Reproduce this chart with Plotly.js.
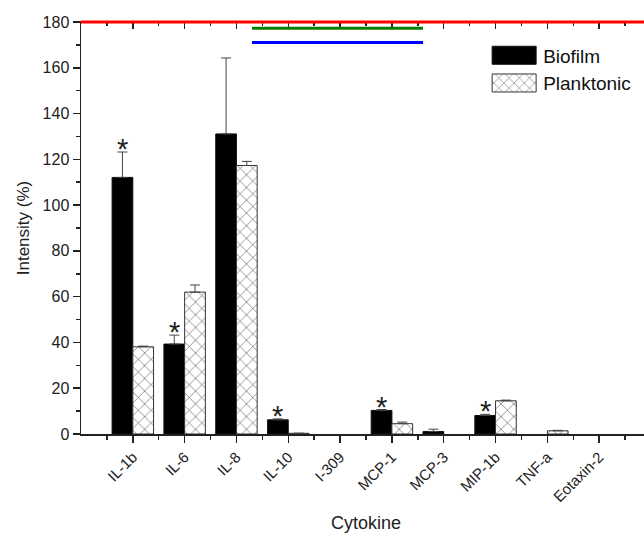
<!DOCTYPE html>
<html>
<head>
<meta charset="utf-8">
<script src="https://cdn.plot.ly/plotly-3.0.1.min.js"></script>
<style>
html,body{margin:0;padding:0;overflow:hidden;background:#fff;}
#chart{width:655px;height:540px;}
</style>
</head>
<body>
<div id="chart"></div>
<script>
// ---- data ----
const categories = ['IL-1b','IL-6','IL-8','IL-10','I-309','MCP-1','MCP-3','MIP-1b','TNF-a','Eotaxin-2'];
const biofilm       = [112.1, 39.3, 131.1, 6.2, 0, 10.3, 1.1, 8.1, 0, 0];
const biofilmErr    = [11.1, 3.9, 33.2, 0.4, 0, 0.4, 1.0, 0.5, 0, 0];
const planktonic    = [38.1, 62.0, 117.3, 0.3, 0, 4.5, 0, 14.5, 1.4, 0];
const planktonicErr = [0.3, 3.1, 1.8, 0, 0, 0.7, 0, 0.3, 0.2, 0];
const significant   = [true, true, false, true, false, true, false, true, false, false];
const yTickVals = [0, 20, 40, 60, 80, 100, 120, 140, 160, 180];

const idx = categories.map((c, i) => i);
const FONT = 'Liberation Sans, Arial, sans-serif';
const INK = '#222';
const nz = v => (v === 0 ? null : v);   // empty values draw no bar

const traces = [
  {
    type: 'bar', name: 'Biofilm', x: idx, y: biofilm.map(nz),
    marker: {color: '#000', line: {color: '#111', width: 1}},
    error_y: {type: 'data', array: biofilmErr, arrayminus: biofilmErr.map(() => 0), symmetric: false,
              color: '#444', thickness: 1, width: 5},
    hoverinfo: 'skip'
  },
  {
    type: 'bar', name: 'Planktonic', x: idx, y: planktonic.map(nz),
    marker: {color: '#fff', line: {color: '#333', width: 1},
             pattern: {shape: 'x', size: 9, solidity: 0.12, fgcolor: '#444', bgcolor: '#fff'}},
    error_y: {type: 'data', array: planktonicErr, arrayminus: planktonicErr.map(() => 0), symmetric: false,
              color: '#444', thickness: 1, width: 5},
    hoverinfo: 'skip'
  },
  {type: 'scatter', mode: 'markers', x: idx, y: biofilm, xaxis: 'x2', yaxis: 'y',
   marker: {opacity: 0}, showlegend: false, hoverinfo: 'skip'}
];

const annotations = [];
significant.forEach((s, i) => {
  if (!s) return;
  annotations.push({
    x: i - 0.2, y: biofilm[i] + biofilmErr[i], xref: 'x', yref: 'y',
    text: '*', showarrow: false, yanchor: 'bottom', yshift: -15,
    font: {family: FONT, size: 29, color: INK}
  });
});

const axisCommon = {
  showline: true, linecolor: INK, linewidth: 1.5, showgrid: false, zeroline: false,
  tickcolor: INK, tickwidth: 1.5, ticklen: 7
};

const layout = {
  width: 655, height: 540,
  margin: {l: 81, r: 4, t: 22, b: 106},
  paper_bgcolor: '#fff', plot_bgcolor: '#fff',
  font: {family: FONT, color: INK},
  barmode: 'group', bargap: 0.2, bargroupgap: 0,
  showlegend: true,
  legend: {x: 0.709, xanchor: 'left', y: 0.965, yanchor: 'top', bgcolor: 'rgba(0,0,0,0)',
           font: {family: FONT, size: 19, color: '#111'}, itemwidth: 48, tracegroupgap: 0},
  xaxis: Object.assign({}, axisCommon, {
    type: 'linear', range: [-1, 10], tickmode: 'array', tickvals: idx, ticktext: categories,
    ticks: 'outside', tickangle: -45, tickfont: {family: FONT, size: 15, color: INK},
    mirror: true,
    minor: {ticks: 'outside', ticklen: 4, tickwidth: 1.5, tickcolor: INK, tick0: -0.5, dtick: 1},
    title: {text: 'Cytokine', font: {family: FONT, size: 18, color: INK}, standoff: 12}
  }),
  yaxis: Object.assign({}, axisCommon, {
    range: [0, 180], tickmode: 'array', tickvals: yTickVals, ticks: 'outside',
    tickfont: {family: FONT, size: 16, color: INK}, mirror: true,
    minor: {ticks: 'outside', ticklen: 4, tickwidth: 1.5, tickcolor: INK, dtick: 10, tick0: 0},
    title: {text: 'Intensity (%)', font: {family: FONT, size: 17, color: INK}, standoff: 8}
  }),
  xaxis2: {
    overlaying: 'x', side: 'top', anchor: 'y', type: 'linear', range: [-1, 10],
    showline: false, showgrid: false, zeroline: false,
    tickmode: 'array', tickvals: idx, ticks: 'inside', ticklen: 7, tickwidth: 1.5, tickcolor: INK,
    showticklabels: false,
    minor: {ticks: 'inside', ticklen: 4, tickwidth: 1.5, tickcolor: INK, tick0: -0.5, dtick: 1}
  },
  // diagnostic lines
  shapes: [
    {type: 'line', xref: 'paper', yref: 'paper', x0: 0, x1: 1, y0: 1, y1: 1, line: {color: 'red', width: 3}, layer: 'above'},
    {type: 'line', xref: 'paper', yref: 'paper', x0: 0.3, x1: 0.6, y0: 0.95, y1: 0.95, line: {color: 'blue', width: 3}, layer: 'above'},
    {type: 'line', xref: 'paper', yref: 'paper', x0: 0.3, x1: 0.6, y0: 0.985, y1: 0.985, line: {color: 'green', width: 3}, layer: 'above'}
  ],
  annotations: annotations
};

Plotly.newPlot('chart', traces, layout, {staticPlot: true, displayModeBar: false}).then(gd => {
  gd.querySelectorAll('.legend .legendpoints path').forEach(p => {
    p.setAttribute('d', 'M22,9H-22V-9H22Z');
  });
});
</script>
</body>
</html>
